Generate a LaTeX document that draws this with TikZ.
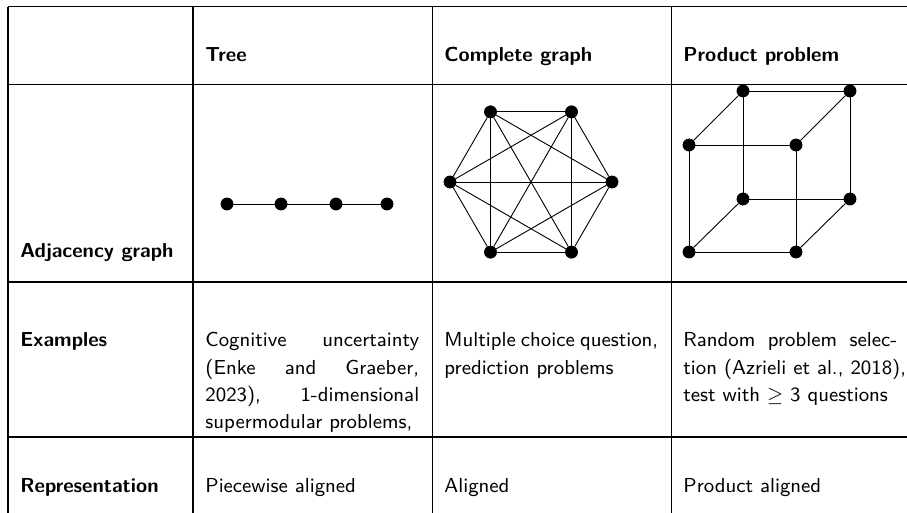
\documentclass[tikz,border=0pt]{standalone}
\usepackage{fontspec}
\usetikzlibrary{positioning}

\begin{document}
\begin{tikzpicture}
	[x=0.4444pt,y=-0.4444pt,
	main node/.style={shape=circle,draw,fill=black,inner sep=0pt,minimum size=5.3pt},
	head/.style={anchor=base west,inner sep=0pt,font=\fontsize{9}{12}\selectfont\sffamily\bfseries},
	cell/.style={anchor=base west,inner sep=0pt,font=\fontsize{9}{12}\selectfont\sffamily,text width=95pt,align=justify},
	rule/.style={line width=0.45pt}]
	\useasboundingbox (0,0) rectangle (907,513);
	
	% table rules
	\foreach \y in {7,85,282,437} \draw[rule] (8,\y) -- (907,\y);
	\foreach \x in {8,193,432,671} \draw[rule] (\x,7) -- (\x,513);
	
	% header row
	\node [head] (tree) at (205,61.5) {Tree};
	\node [head] (complete) at (444,61.5) {Complete graph};
	\node [head] (product) at (683,61.5) {Product problem};
	\node [head] (adj) at (20,257.5) {Adjacency graph};
	
	% tree
	\node [main node] (1) at (227,204) {};
	\node [main node] (2) at (281,204) {};
	\node [main node] (3) at (336,204) {};
	\node [main node] (4) at (387,204) {};
	\path[draw]
	(1) edge (2)
	(2) edge (3)
	(3) edge (4);
	
	% complete graph
	\foreach \i in {1,...,6}
		\node [main node] (k\i) at ({531+81*cos(60*\i)},{182+81*sin(60*\i)}) {};
	\foreach \i in {1,...,6}
		\foreach \j in {1,...,6}
			{\ifnum\i<\j \draw (k\i) -- (k\j);\fi}
	
	% product problem (cube)
	\node [main node] (f1) at (689,145) {};
	\node [main node] (f2) at (796,145) {};
	\node [main node] (f3) at (796,252) {};
	\node [main node] (f4) at (689,252) {};
	\node [main node] (b1) at (743,91) {};
	\node [main node] (b2) at (850,91) {};
	\node [main node] (b3) at (850,199) {};
	\node [main node] (b4) at (743,199) {};
	\path[draw]
	(f1) edge (f2) (f2) edge (f3) (f3) edge (f4) (f4) edge (f1)
	(b1) edge (b2) (b2) edge (b3) (b3) edge (b4) (b4) edge (b1)
	(f1) edge (b1) (f2) edge (b2) (f3) edge (b3) (f4) edge (b4);
	
	% examples row
	\node [head] (ex) at (20,347) {Examples};
	\node [cell] (ex1) at (205,347) {Cognitive uncertainty (Enke and Graeber, 2023), 1-dimensional supermodular problems,};
	\node [cell] (ex2) at (444,347) {Multiple choice question, prediction problems};
	\node [cell] (ex3) at (683,347) {Random problem selec-\linebreak \mbox{tion (Azrieli et al., 2018),}\\ test with $\geq$ 3 questions};
	
	% representation row
	\node [head] (rep) at (20,493) {Representation};
	\node [cell] (rep1) at (205,493) {Piecewise aligned};
	\node [cell] (rep2) at (444,493) {Aligned};
	\node [cell] (rep3) at (683,493) {Product aligned};
	
\end{tikzpicture}
\end{document}
